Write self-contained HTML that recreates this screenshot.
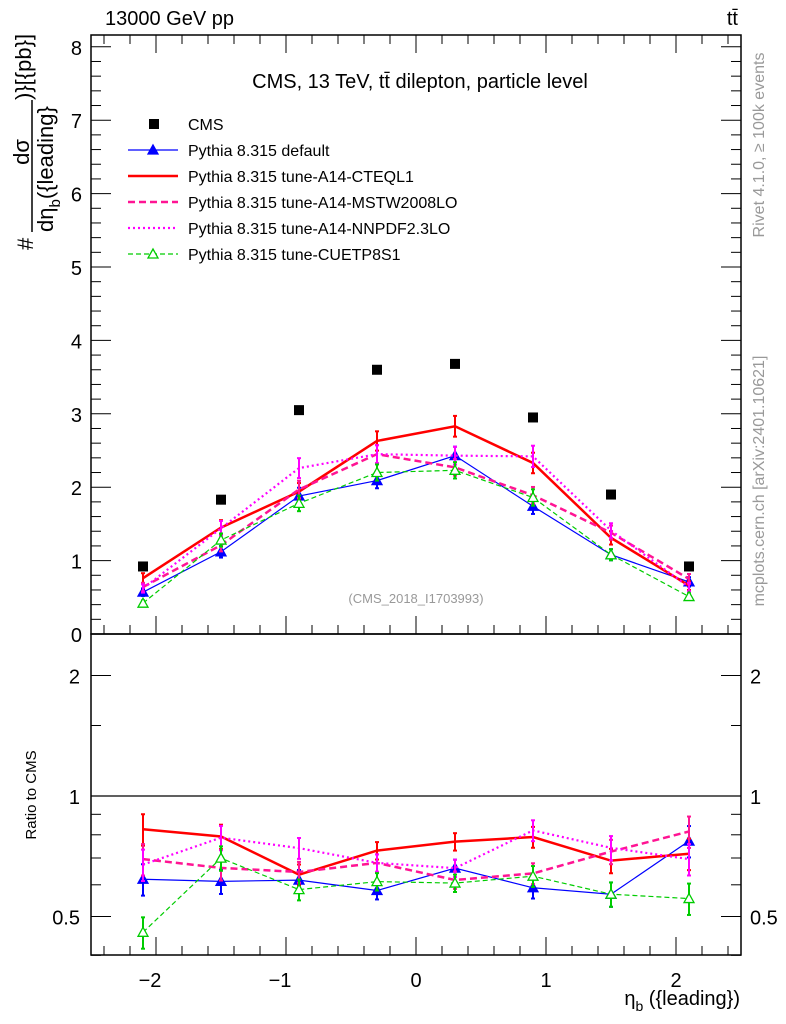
<!DOCTYPE html>
<html><head><meta charset="utf-8"><style>
html,body{margin:0;padding:0;background:#fff}
svg{display:block;font-family:"Liberation Sans",sans-serif}
</style></head><body>
<svg id="chart" width="786" height="1024" viewBox="0 0 786 1024">
<g id="axes"></g>
<g id="marks"></g>
<text x="105" y="25" font-size="20">13000 GeV pp</text>
<text x="738" y="25" font-size="20" text-anchor="end">tt̄</text>
<text x="420" y="88" font-size="20" text-anchor="middle">CMS, 13 TeV, tt̄ dilepton, particle level</text>
<text x="416" y="603" font-size="13" fill="#999" text-anchor="middle">(CMS_2018_I1703993)</text>
<text transform="translate(764,145) rotate(-90)" font-size="16" fill="#999" text-anchor="middle">Rivet 4.1.0, ≥ 100k events</text>
<text transform="translate(764,481) rotate(-90)" font-size="16" fill="#999" text-anchor="middle">mcplots.cern.ch [arXiv:2401.10621]</text>
<g>
<text transform="translate(33,250) rotate(-90)" font-size="22">#</text>
<text transform="translate(29,152) rotate(-90)" font-size="22" text-anchor="middle">dσ</text>
<line x1="32" y1="100" x2="32" y2="232" stroke="#000" stroke-width="1.5"/>
<text transform="translate(53,232) rotate(-90)" font-size="22">dη<tspan font-size="15" dy="7">b</tspan><tspan dy="-7">({leading}</tspan></text>
<text transform="translate(31,100) rotate(-90)" font-size="22">)}[{pb}]</text>
</g>
<text transform="translate(36,795) rotate(-90)" font-size="15" text-anchor="middle">Ratio to CMS</text>
<text x="740" y="1005" font-size="20" text-anchor="end">η<tspan font-size="14" dy="6">b</tspan><tspan dy="-6"> ({leading})</tspan></text>
<g id="legend"></g>
</svg>
<script>
const xCenters = [-2.1,-1.5,-0.9,-0.3,0.3,0.9,1.5,2.1];
const cmsValues = [0.92,1.83,3.05,3.6,3.68,2.95,1.9,0.92];
const defaultValues = [0.57,1.12,1.88,2.09,2.43,1.74,1.08,0.71];
const cteql1Values = [0.76,1.45,1.94,2.63,2.83,2.33,1.31,0.66];
const mstwValues = [0.64,1.21,1.97,2.45,2.27,1.89,1.38,0.75];
const nnpdfValues = [0.62,1.44,2.26,2.45,2.43,2.42,1.41,0.64];
const cuetValues = [0.42,1.28,1.78,2.2,2.23,1.86,1.08,0.51];
const relErr = [0.09,0.07,0.06,0.05,0.05,0.06,0.07,0.09];
const mainTicks = [0,1,2,3,4,5,6,7,8];
const ratioTicks = [0.5,1,2];
const xTicks = [-2,-1,0,1,2];

const NS='http://www.w3.org/2000/svg';
const L=91,R=741,T=35,MB=634,RB=955;
const X=v=>416+v*130;
const Y=v=>634-v*73.4;
const RY=v=>796-Math.log2(v)*120.5;
function mk(tag,attrs,parent){const e=document.createElementNS(NS,tag);for(const k in attrs)e.setAttribute(k,attrs[k]);parent.appendChild(e);return e;}
const axes=document.getElementById('axes'),marks=document.getElementById('marks'),leg=document.getElementById('legend');

let f=mk('rect',{x:L,y:T,width:R-L,height:MB-T,fill:'none',stroke:'#000','stroke-width':1.5},axes);


f=mk('rect',{x:L,y:MB,width:R-L,height:RB-MB,fill:'none',stroke:'#000','stroke-width':1.5},axes);


f=mk('line',{x1:L,x2:R,y1:RY(1),y2:RY(1),stroke:'#000','stroke-width':1.2},axes);



for(let v=-2.4;v<=2.41;v+=0.2){const vv=Math.round(v*10)/10;const maj=Math.abs(vv-Math.round(vv))<1e-6;const len=maj?18:9;
[MB,RB].forEach(b=>{mk('line',{x1:X(vv),x2:X(vv),y1:b,y2:b-len,stroke:'#000','stroke-width':1},axes);mk('line',{x1:X(vv),x2:X(vv),y1:T,y2:T+len,stroke:'#000','stroke-width':1},axes);});}
xTicks.forEach(v=>{const t=mk('text',{x:X(v)-(v<0?6:0),y:RB+32,'font-size':20,'text-anchor':'middle'},axes);t.textContent=v<0?'\u2212'+(-v):String(v);

});
for(let v=0;v<=8.1;v+=0.2){const vv=Math.round(v*10)/10;const maj=Math.abs(vv-Math.round(vv))<1e-6;const len=maj?20:10;
mk('line',{x1:L,x2:L+len,y1:Y(vv),y2:Y(vv),stroke:'#000','stroke-width':1},axes);mk('line',{x1:R,x2:R-len,y1:Y(vv),y2:Y(vv),stroke:'#000','stroke-width':1},axes);}
mainTicks.forEach(v=>{const t=mk('text',{x:82,y:Y(v)+8,'font-size':20,'text-anchor':'end'},axes);t.textContent=String(v);

});
[0.4,0.5,0.6,0.7,0.8,0.9,1,2].forEach(v=>{const maj=ratioTicks.includes(v);const len=maj?20:10;
mk('line',{x1:L,x2:L+len,y1:RY(v),y2:RY(v),stroke:'#000','stroke-width':1},axes);mk('line',{x1:R,x2:R-len,y1:RY(v),y2:RY(v),stroke:'#000','stroke-width':1},axes);});
[1.5].forEach(v=>{mk('line',{x1:L,x2:L+10,y1:RY(v),y2:RY(v),stroke:'#000','stroke-width':1},axes);mk('line',{x1:R,x2:R-10,y1:RY(v),y2:RY(v),stroke:'#000','stroke-width':1},axes);});
ratioTicks.forEach(v=>{let t=mk('text',{x:80,y:RY(v)+8,'font-size':20,'text-anchor':'end'},axes);t.textContent=String(v);


t=mk('text',{x:750,y:RY(v)+8,'font-size':20},axes);t.textContent=String(v);

});

const series=[
 {name:'default',vals:defaultValues,color:'#0000ff',w:1.2,dash:'',marker:'tri'},
 {name:'cteql1',vals:cteql1Values,color:'#ff0000',w:2.5,dash:'',marker:''},
 {name:'mstw2008lo',vals:mstwValues,color:'#ff1493',w:2.5,dash:'7,4',marker:''},
 {name:'nnpdf23lo',vals:nnpdfValues,color:'#ff00ff',w:2.2,dash:'2,3',marker:''},
 {name:'cuetp8s1',vals:cuetValues,color:'#00cc00',w:1.2,dash:'5,3',marker:'otri'}];
function tri(g,x,y,c,open){mk('polygon',{points:`${x},${y-5} ${x-5},${y+4} ${x+5},${y+4}`,fill:open?'#fff':c,stroke:c,'stroke-width':1.3},g);}
series.forEach(s=>{
 const g=mk('g',{},marks);
 
 
 const ratios=s.vals.map((v,i)=>v/cmsValues[i]);
 [[s.vals,Y],[ratios,RY]].forEach(([arr,fy])=>{
  mk('polyline',{points:arr.map((v,i)=>X(xCenters[i])+','+fy(v)).join(' '),fill:'none',stroke:s.color,'stroke-width':s.w,'stroke-dasharray':s.dash},g);
  arr.forEach((v,i)=>{const x=X(xCenters[i]);const e=v*relErr[i];
   mk('line',{x1:x,x2:x,y1:fy(v-e),y2:fy(v+e),stroke:s.color,'stroke-width':2},g);
   mk('line',{x1:x-2,x2:x+2,y1:fy(v-e),y2:fy(v-e),stroke:s.color,'stroke-width':2},g);
   mk('line',{x1:x-2,x2:x+2,y1:fy(v+e),y2:fy(v+e),stroke:s.color,'stroke-width':2},g);
   if(s.marker)tri(g,x,fy(v),s.color,s.marker==='otri');});
 });
});
const cg=mk('g',{},marks);


cmsValues.forEach((v,i)=>{mk('rect',{x:X(xCenters[i])-5,y:Y(v)-5,width:10,height:10,fill:'#000'},cg);});

const labels=['CMS','Pythia 8.315 default','Pythia 8.315 tune-A14-CTEQL1','Pythia 8.315 tune-A14-MSTW2008LO','Pythia 8.315 tune-A14-NNPDF2.3LO','Pythia 8.315 tune-CUETP8S1'];
labels.forEach((lab,i)=>{const y=124+i*26;const g=mk('g',{},leg);
 
 
 if(i===0)mk('rect',{x:149,y:y-5,width:10,height:10,fill:'#000'},g);
 else{const s=series[i-1];mk('line',{x1:128,x2:178,y1:y,y2:y,stroke:s.color,'stroke-width':s.w,'stroke-dasharray':s.dash},g);if(s.marker)tri(g,153,y,s.color,s.marker==='otri');}
 const t=mk('text',{x:188,y:y+6,'font-size':16},g);t.textContent=lab;});
</script>
</body></html>
